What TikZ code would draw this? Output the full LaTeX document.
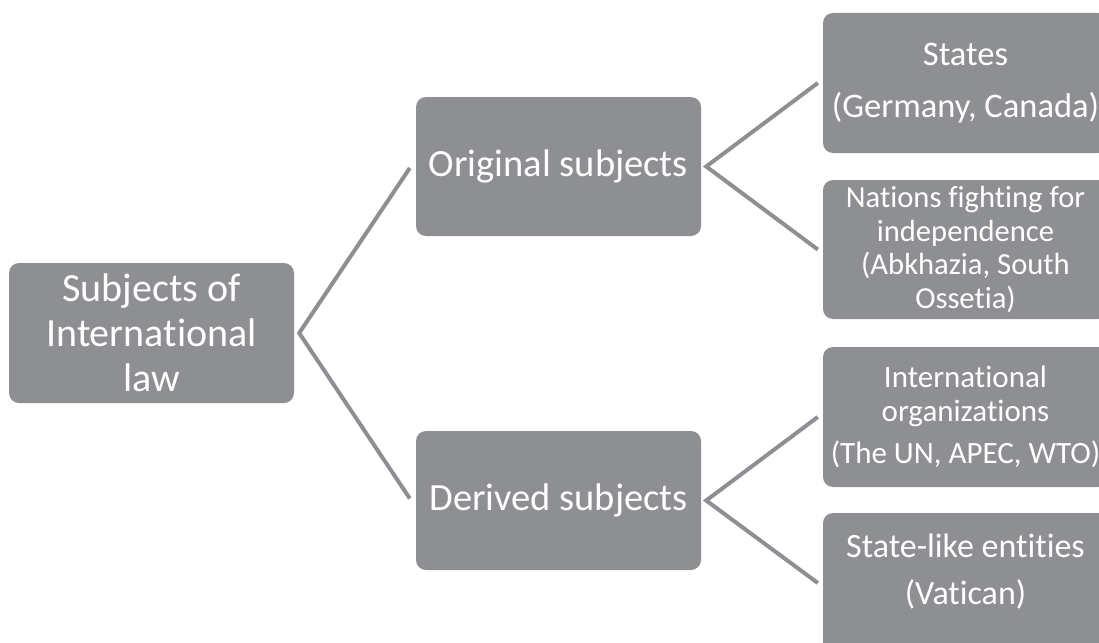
\documentclass[tikz,border=0pt]{standalone}
\usepackage{fontspec}
\setmainfont{Carlito}[Ligatures=NoCommon]
\usetikzlibrary{calc}
\definecolor{boxgray}{RGB}{142,143,146}
\newcommand\myfs[2]{\fontsize{#1}{#2}\selectfont}
\begin{document}
\begin{tikzpicture}[x=1pt,y=1pt,
  box/.style={rectangle, rounded corners=10pt, fill=boxgray, text=white,
    align=center, minimum width=285pt, minimum height=140pt, inner sep=2pt},
  conn/.style={draw=boxgray, line width=4pt, line join=miter}]
\useasboundingbox (0,0) rectangle (1099,-642);
\clip (0,0) rectangle (1099,-642);
\node[box, font=\myfs{40pt}{45pt}] (root) at (151.5,-333) {Subjects of\\International\\law};
\node[box, minimum height=139pt, font=\myfs{38.5pt}{42pt}] (orig) at (558.5,-166.5) {Original subjects};
\node[box, minimum height=139pt, font=\myfs{38.5pt}{42pt}] (der) at (558.5,-500.5) {Derived subjects};
\node[box, font=\myfs{34.5pt}{38pt}] (states) at (965.5,-83) {States\\[14pt](Germany, Canada)};
\node[box, minimum height=139pt, font=\myfs{30.6pt}{33.6pt}] (nations) at (965.5,-249.5) {Nations fighting for\\independence\\(Abkhazia, South\\Ossetia)};
\node[box, font=\myfs{31pt}{34pt}] (intl) at (965.5,-417) {International\\organizations\\[8pt](The UN, APEC, WTO)};
\node[box, font=\myfs{34pt}{37.5pt}] (slike) at (965.5,-583) {State-like entities\\[10pt](Vatican)\\[-10pt]\mbox{}};
\draw[conn] ($(orig.west)+(-6,-1.5)$) -- ($(root.east)+(5,0)$) -- ($(der.west)+(-6,2)$);
\draw[conn] ($(states.west)+(-5,0)$) -- ($(orig.east)+(5,0)$) -- ($(nations.west)+(-5,0)$);
\draw[conn] ($(intl.west)+(-5,0)$) -- ($(der.east)+(5,0)$) -- ($(slike.west)+(-5,0)$);
\end{tikzpicture}
\end{document}
